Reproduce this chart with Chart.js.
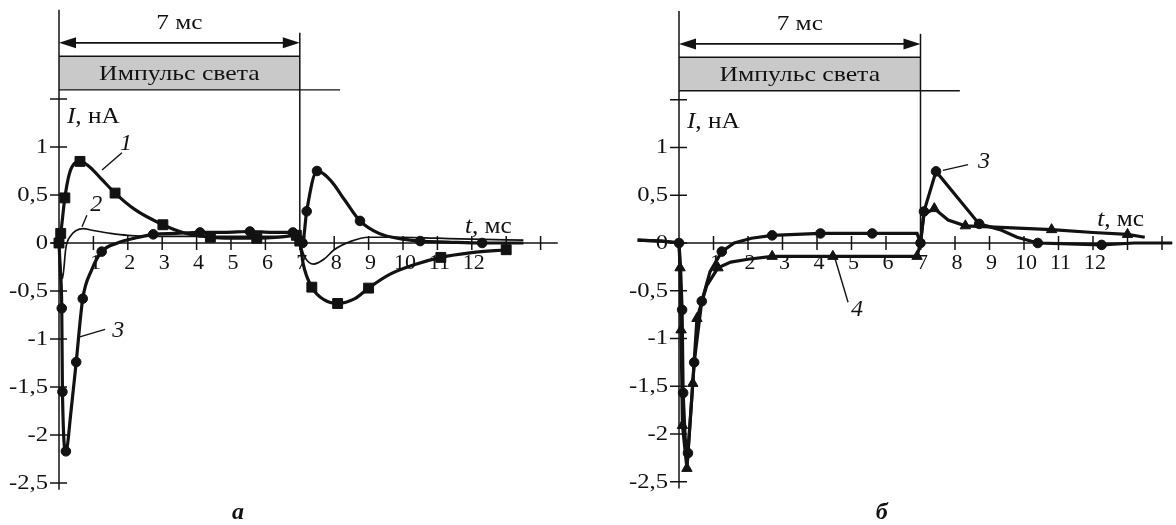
<!DOCTYPE html>
<html>
<head>
<meta charset="utf-8">
<script src="https://cdn.jsdelivr.net/npm/chart.js@4.4.0/dist/chart.umd.min.js"></script>
<style>
  body { margin: 0; background: #fff; }
  .wrap { display: flex; width: 1176px; height: 525px; }
  canvas { display: block; }
</style>
</head>
<body>
<div class="wrap">
  <canvas id="chart-a" width="588" height="525"></canvas>
  <canvas id="chart-b" width="588" height="525"></canvas>
</div>
<script>
// ---- panel а : curves 1, 2, 3 ----
const tA1 = [0, 0.05, 0.17, 0.3, 0.45, 0.61, 0.9, 1.25, 1.63, 2.2, 3.02, 3.6, 4.4, 5.0, 5.75, 6.4, 6.9, 7.0, 7.1, 7.35, 7.7, 8.1, 8.6, 9.0, 9.6, 10.3, 11.1, 12.0, 13.0];
const iA1 = [0, 0.1, 0.47, 0.72, 0.83, 0.85, 0.79, 0.66, 0.52, 0.35, 0.19, 0.11, 0.06, 0.05, 0.05, 0.06, 0.08, 0.02, -0.22, -0.46, -0.59, -0.63, -0.58, -0.47, -0.33, -0.23, -0.15, -0.1, -0.07];
const mA1 = [1, 1, 1, 0, 0, 1, 0, 0, 1, 0, 1, 0, 1, 0, 1, 0, 1, 1, 0, 1, 0, 1, 0, 1, 0, 0, 1, 0, 1];

const tA2 = [0, 0.05, 0.1, 0.2, 0.35, 0.5, 0.7, 1.0, 1.5, 2.0, 3.0, 4.0, 5.0, 6.0, 6.9, 7.0, 7.15, 7.4, 7.7, 8.0, 8.5, 9.0, 10.0, 11.0, 12.0, 13.5];
const iA2 = [0, -0.25, -0.37, -0.05, 0.08, 0.13, 0.15, 0.13, 0.1, 0.08, 0.07, 0.07, 0.07, 0.07, 0.07, 0.0, -0.15, -0.22, -0.17, -0.07, 0.02, 0.06, 0.06, 0.05, 0.04, 0.03];

const tA3 = [0, 0.04, 0.08, 0.1, 0.2, 0.35, 0.5, 0.69, 0.95, 1.24, 1.7, 2.2, 2.74, 3.4, 4.1, 4.8, 5.55, 6.2, 6.8, 7.0, 7.08, 7.2, 7.5, 7.9, 8.3, 8.75, 9.3, 10.0, 10.5, 11.3, 12.3, 13.5];
const iA3 = [0, -0.3, -0.68, -1.55, -2.17, -1.75, -1.24, -0.58, -0.28, -0.09, 0.0, 0.05, 0.09, 0.1, 0.11, 0.11, 0.12, 0.11, 0.11, 0.05, 0.0, 0.33, 0.75, 0.65, 0.45, 0.23, 0.1, 0.04, 0.02, 0.01, 0.0, 0.0];
const mA3 = [1, 0, 1, 1, 1, 0, 1, 1, 0, 1, 0, 0, 1, 0, 1, 0, 1, 0, 1, 0, 1, 1, 1, 0, 0, 1, 0, 0, 1, 0, 1, 0];

// ---- panel б : curves 3, 4 ----
const tB3 = [-1.2, -0.5, 0, 0.05, 0.09, 0.12, 0.18, 0.26, 0.44, 0.66, 0.9, 1.24, 1.6, 2.1, 2.7, 3.4, 4.1, 5.6, 6.9, 7.0, 7.1, 7.45, 8.7, 9.3, 9.8, 10.4, 11.3, 12.25, 13.2, 14.3];
const iB3 = [0.03, 0.02, 0, -0.3, -0.7, -1.57, -2.05, -2.2, -1.25, -0.61, -0.3, -0.09, 0.0, 0.05, 0.08, 0.09, 0.1, 0.1, 0.1, 0.0, 0.33, 0.75, 0.2, 0.14, 0.06, 0.0, -0.01, -0.02, 0.0, 0.0];
const mB3 = [0, 0, 1, 0, 1, 1, 0, 1, 1, 1, 0, 1, 0, 0, 1, 0, 1, 1, 0, 1, 1, 1, 1, 0, 0, 1, 0, 1, 0, 0];

const tB4 = [-1.2, -0.5, 0, 0.03, 0.06, 0.1, 0.23, 0.4, 0.52, 0.8, 1.13, 1.5, 2.0, 2.7, 3.5, 4.46, 5.5, 6.9, 7.0, 7.1, 7.4, 7.8, 8.3, 9.5, 10.8, 12.0, 13.0, 13.5];
const iB4 = [0.03, 0.02, 0, -0.26, -0.91, -1.91, -2.36, -1.47, -0.79, -0.45, -0.26, -0.2, -0.17, -0.14, -0.14, -0.14, -0.14, -0.14, 0.0, 0.3, 0.36, 0.24, 0.18, 0.16, 0.14, 0.11, 0.09, 0.06];
const mB4 = [0, 0, 0, 1, 1, 1, 1, 1, 1, 0, 1, 0, 0, 1, 0, 1, 0, 1, 0, 0, 1, 0, 1, 0, 1, 0, 1, 0];

// axes
const yTicks = [1, 0.5, 0, -0.5, -1, -1.5, -2, -2.5];
const yTickLabels = ['1', '0,5', '0', '-0,5', '-1', '-1,5', '-2', '-2,5'];
const xTicks = [1, 2, 3, 4, 5, 6, 7, 8, 9, 10, 11, 12, 13, 14];
const xTickLabels = ['1', '2', '3', '4', '5', '6', '7', '8', '9', '10', '11', '12', '', ''];
const PULSE_MS = 7;

const INK = '#121212';
const SERIF = '"Liberation Serif", "DejaVu Serif", serif';

function pts(ts, is) {
  return ts.map((t, k) => ({ x: t, y: is[k] }));
}

function curve(ts, is, marks, style, r, width, smooth) {
  return {
    data: pts(ts, is),
    borderColor: INK,
    backgroundColor: INK,
    borderWidth: width,
    pointStyle: style,
    pointRadius: marks ? marks.map(m => (m ? r : 0)) : 0,
    pointBorderWidth: 1,
    cubicInterpolationMode: smooth ? 'monotone' : 'default',
    tension: smooth ? 0.4 : 0
  };
}

function text(ctx, str, x, y, font, align, sx) {
  ctx.save();
  ctx.font = font;
  ctx.textAlign = align || 'center';
  ctx.textBaseline = 'middle';
  ctx.translate(x, y);
  ctx.scale(sx || 1, 1);
  ctx.fillText(str, 0, 0);
  ctx.restore();
}

// italic symbol followed by upright unit, e.g. "I, нА"
function axisTitle(ctx, sym, unit, x, y) {
  ctx.save();
  ctx.translate(x, y);
  ctx.scale(1.1, 1);
  ctx.textBaseline = 'middle';
  ctx.textAlign = 'left';
  ctx.font = 'italic 23px ' + SERIF;
  ctx.fillText(sym, 0, 0);
  const w = ctx.measureText(sym).width;
  ctx.font = '23px ' + SERIF;
  ctx.fillText(unit, w, 0);
  ctx.restore();
}

function line(ctx, x1, y1, x2, y2, w) {
  ctx.lineWidth = w;
  ctx.beginPath();
  ctx.moveTo(x1, y1);
  ctx.lineTo(x2, y2);
  ctx.stroke();
}

function arrowHead(ctx, tipX, y, dir) {
  ctx.beginPath();
  ctx.moveTo(tipX, y);
  ctx.lineTo(tipX + dir * 17, y - 5.5);
  ctx.lineTo(tipX + dir * 17, y + 5.5);
  ctx.closePath();
  ctx.fill();
}

// axes, light pulse bar and labels, drawn under the curves
function decor(cfg) {
  return {
    id: 'decor',
    beforeDatasetsDraw(chart) {
      const ctx = chart.ctx;
      const sx = chart.scales.x, sy = chart.scales.y;
      const px = v => sx.getPixelForValue(v);
      const py = v => sy.getPixelForValue(v);
      const x0 = px(0), x7 = px(PULSE_MS), y0 = py(0);
      ctx.save();
      ctx.strokeStyle = INK;
      ctx.fillStyle = INK;

      // pulse bar
      const bt = py(1.945), bb = py(1.595);
      ctx.fillStyle = '#c9c9c9';
      ctx.fillRect(x0, bt, x7 - x0, bb - bt);
      ctx.fillStyle = INK;
      line(ctx, x0, bt, x7, bt, 1.6);
      line(ctx, x0, bb, px(cfg.baseEnd), bb, 1.4);
      text(ctx, 'Импульс света', (x0 + x7) / 2, (bt + bb) / 2 + 1, '22px ' + SERIF, 'center', 1.17);

      // 7 ms dimension arrow
      const ay = py(2.085);
      line(ctx, x0 + 10, ay, x7 - 10, ay, 1.8);
      arrowHead(ctx, x0, ay, 1);
      arrowHead(ctx, x7, ay, -1);
      text(ctx, '7 мс', (x0 + x7) / 2, py(2.29), '22px ' + SERIF, 'center', 1.15);
      line(ctx, x7, py(2.19), x7, y0, 1.5);

      // y axis
      line(ctx, x0, py(2.43), x0, py(-2.57), 1.5);
      yTicks.concat([1.5]).forEach(v => line(ctx, x0 - 9, py(v), x0 + 8, py(v), 1.5));
      yTicks.forEach((v, k) => text(ctx, yTickLabels[k], x0 - 11, py(v), '22px ' + SERIF, 'right', 1.12));

      // x axis
      line(ctx, x0 - 8, y0, px(cfg.axisEnd), y0, 1.5);
      xTicks.forEach((v, k) => {
        line(ctx, px(v), y0 - 7, px(v), y0 + 7, 1.5);
        if (xTickLabels[k]) text(ctx, xTickLabels[k], px(v) + 2, y0 + 20, '22px ' + SERIF, 'center');
      });

      axisTitle(ctx, 'I', ', нА', px(cfg.iAt[0]), py(cfg.iAt[1]));
      axisTitle(ctx, 't', ', мс', px(cfg.tAt[0]), py(cfg.tAt[1]));

      // curve numbers with leaders
      cfg.tags.forEach(g => {
        line(ctx, px(g.from[0]), py(g.from[1]), px(g.to[0]), py(g.to[1]), 1.4);
        text(ctx, g.text, px(g.at[0]), py(g.at[1]), 'italic 24px ' + SERIF, 'center');
      });

      text(ctx, cfg.letter, px(cfg.letterAt[0]), py(cfg.letterAt[1]), 'italic bold 24px ' + SERIF, 'center');
      ctx.restore();
    }
  };
}

function panel(id, datasets, xr, yr, pad, cfg) {
  return new Chart(document.getElementById(id), {
    type: 'line',
    data: { datasets: datasets },
    options: {
      responsive: false,
      animation: false,
      events: [],
      layout: { padding: pad, autoPadding: false },
      scales: {
        x: { type: 'linear', min: xr[0], max: xr[1], display: false },
        y: { type: 'linear', min: yr[0], max: yr[1], display: false }
      },
      plugins: { legend: { display: false }, tooltip: { enabled: false } }
    },
    plugins: [decor(cfg)]
  });
}

panel('chart-a', [
  curve(tA2, iA2, null, 'circle', 0, 1.7, true),
  curve(tA1, iA1, mA1, 'rect', 7, 3.2, true),
  curve(tA3, iA3, mA3, 'circle', 4.8, 3.2, true)
], [-1.5, 15], [-2.7, 2.5], { left: 7.4, right: 13, top: 3, bottom: 22.8 }, {
  baseEnd: 8.17,
  axisEnd: 14.5,
  iAt: [0.23, 1.31],
  tAt: [11.8, 0.17],
  letter: 'а',
  letterAt: [5.2, -2.81],
  tags: [
    { text: '1', at: [1.95, 1.03], from: [1.83, 0.94], to: [1.25, 0.76] },
    { text: '2', at: [1.08, 0.40], from: [0.81, 0.29], to: [0.67, 0.17] },
    { text: '3', at: [1.72, -0.91], from: [1.34, -0.90], to: [0.58, -0.98] }
  ]
});

panel('chart-b', [
  curve(tB4, iB4, mB4, 'triangle', 6, 3.2, false),
  curve(tB3, iB3, mB3, 'circle', 4.8, 3.2, false)
], [-2.5, 14.3], [-2.7, 2.5], { left: 4.75, right: 3.65, top: 4.25, bottom: 24.15 }, {
  baseEnd: 8.14,
  axisEnd: 14.3,
  iAt: [0.23, 1.27],
  tAt: [12.12, 0.24],
  letter: 'б',
  letterAt: [5.88, -2.83],
  tags: [
    { text: '3', at: [8.84, 0.85], from: [7.65, 0.76], to: [8.38, 0.82] },
    { text: '4', at: [5.16, -0.70], from: [4.52, -0.16], to: [4.9, -0.62] }
  ]
});
</script>
</body>
</html>
